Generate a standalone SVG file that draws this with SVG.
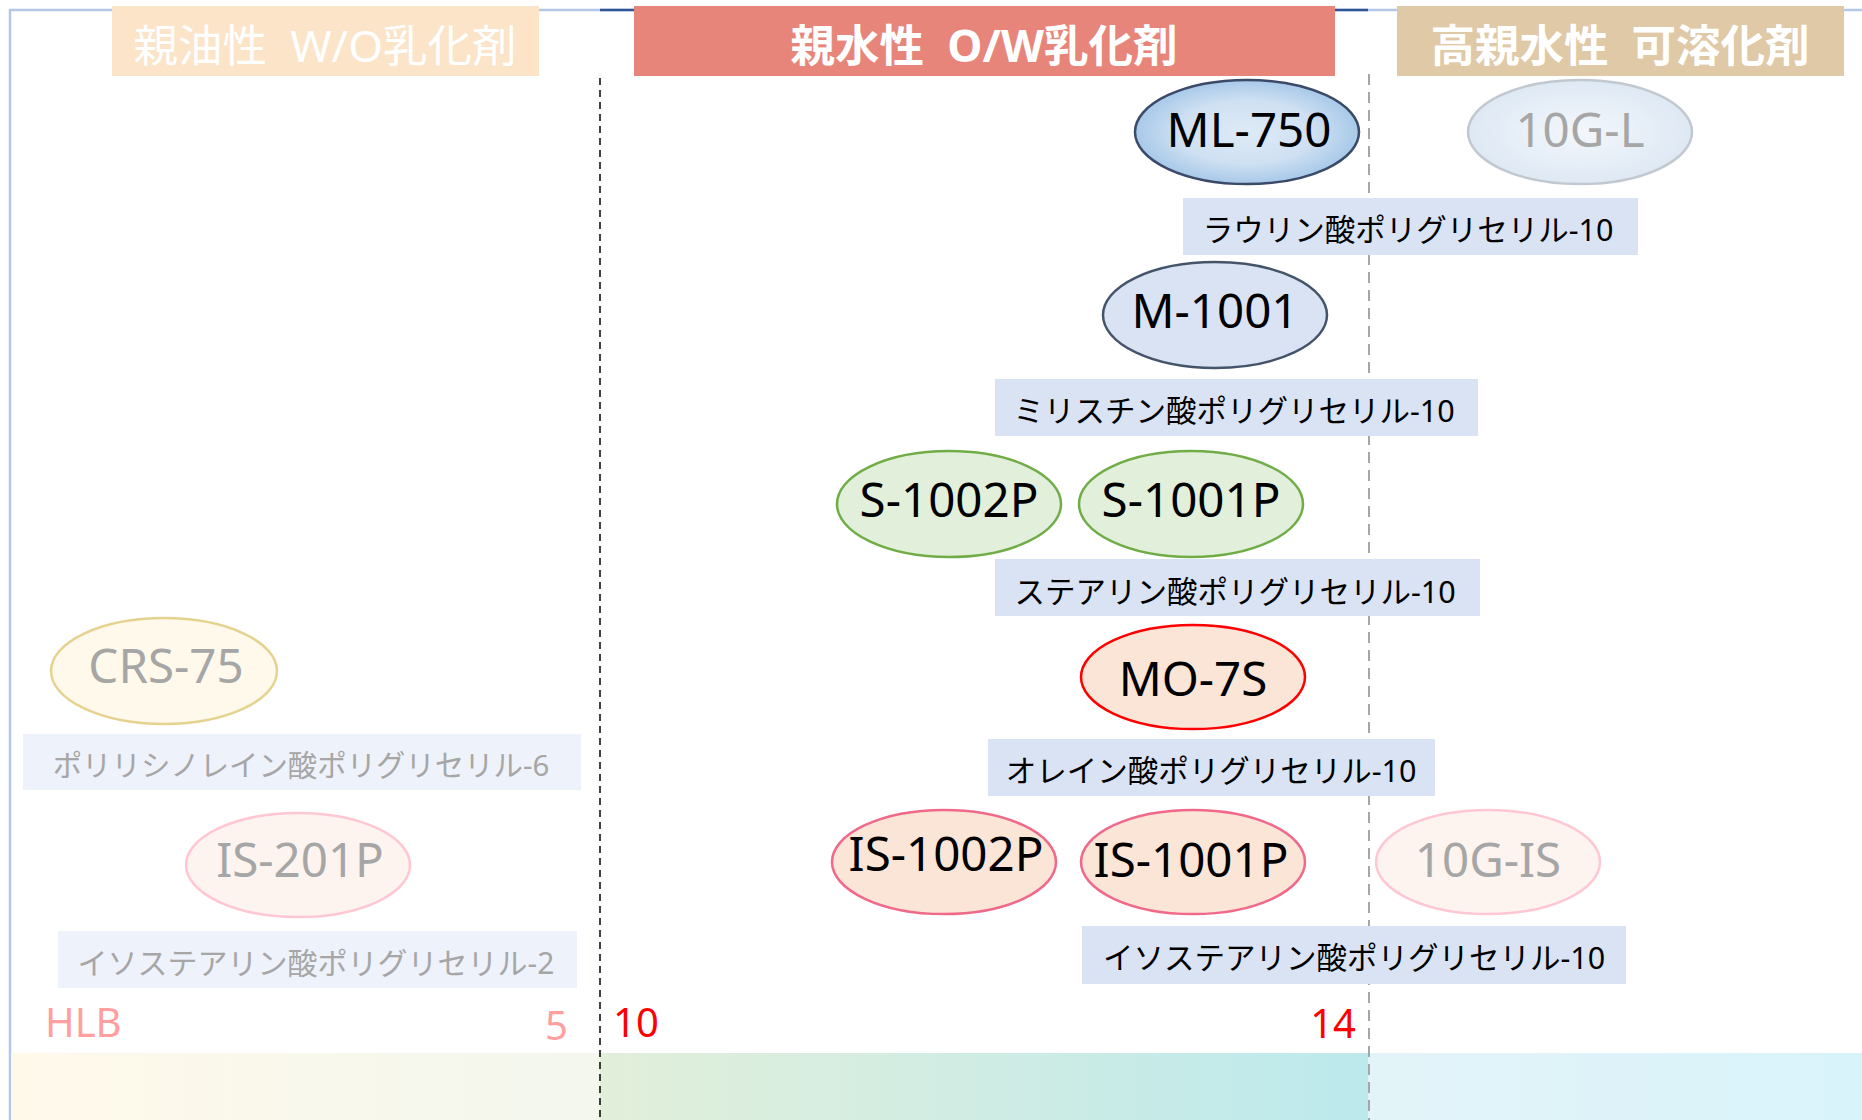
<svg xmlns="http://www.w3.org/2000/svg" width="1862" height="1120" viewBox="0 0 1862 1120">
<defs>
<style>
.hd{font-family:"Noto Sans","Noto Sans CJK JP",sans-serif;font-size:44.5px;fill:#fff;text-anchor:middle;dominant-baseline:central}
.nd{font-family:"Noto Sans","Noto Sans CJK JP",sans-serif;font-size:47.5px;text-anchor:middle;dominant-baseline:central}
.lb{font-family:"Noto Sans","Noto Sans CJK JP",sans-serif;font-size:30.5px;text-anchor:middle;dominant-baseline:central}
.ax{font-family:"Noto Sans","Noto Sans CJK JP",sans-serif;font-size:40px}
.blk{fill:#000}
.gry{fill:#a6a6a6}
.lbA{fill:#dae3f3}
.lbG{fill:#eef2fa}
</style>
<radialGradient id="gML" cx="50%" cy="50%" r="55%">
<stop offset="0" stop-color="#deebf7"/><stop offset="0.55" stop-color="#cfe0f2"/><stop offset="1" stop-color="#9dc3e6"/>
</radialGradient>
<radialGradient id="g10L" cx="50%" cy="50%" r="55%">
<stop offset="0" stop-color="#f3f7fc"/><stop offset="1" stop-color="#dce7f3"/>
</radialGradient>
<linearGradient id="bar1" x1="0" x2="1" y1="0" y2="0"><stop offset="0" stop-color="#fff9ea"/><stop offset="1" stop-color="#f3f7ee"/></linearGradient>
<linearGradient id="bar2" x1="0" x2="1" y1="0" y2="0"><stop offset="0" stop-color="#e2efda"/><stop offset="1" stop-color="#bce9ed"/></linearGradient>
<linearGradient id="bar3" x1="0" x2="1" y1="0" y2="0"><stop offset="0" stop-color="#e3f4f8"/><stop offset="1" stop-color="#d9f3fb"/></linearGradient>
</defs>
<rect width="1862" height="1120" fill="#fff"/>
<g id="frame">
<line x1="9" y1="10" x2="1862" y2="10" stroke="#b4c7e7" stroke-width="2.5"/>
<line x1="600" y1="10" x2="1368" y2="10" stroke="#2f5597" stroke-width="2.5"/>
<line x1="10" y1="9" x2="10" y2="1120" stroke="#b4c7e7" stroke-width="2.5"/>
</g>
<g id="hlb-bar">
<rect x="11" y="1053" width="589" height="67" fill="url(#bar1)"/>
<rect x="600" y="1053" width="768" height="67" fill="url(#bar2)"/>
<rect x="1368" y="1053" width="494" height="67" fill="url(#bar3)"/>
</g>
<g id="connectors">
<line x1="600" y1="78" x2="600" y2="1120" stroke="#000" stroke-width="1.5" stroke-dasharray="7 5"/>
<line x1="1369" y1="74" x2="1369" y2="1120" stroke="#a6a6a6" stroke-width="2" stroke-dasharray="11 7"/>
</g>
<g id="header-wo">
<rect x="112" y="6" width="427" height="70" fill="#fce4c9"/>
<text class="hd" x="325" y="44">親油性&#160;&#160;W/O乳化剤</text>
</g>
<g id="header-ow">
<rect x="634" y="6" width="701" height="70" fill="#e8857a"/>
<text class="hd" x="984" y="44" font-weight="bold">親水性&#160;&#160;O/W乳化剤</text>
</g>
<g id="header-sol">
<rect x="1397" y="6" width="447" height="70" fill="#dfc9a6"/>
<text class="hd" x="1620" y="44" font-weight="bold">高親水性&#160;&#160;可溶化剤</text>
</g>
<g id="node-ML-750">
<ellipse cx="1247" cy="132" rx="112" ry="52" fill="url(#gML)" stroke="#3b4a68" stroke-width="2.5"/>
<text class="nd blk" x="1249" y="128">ML-750</text>
</g>
<g id="node-10G-L">
<ellipse cx="1580" cy="132" rx="112" ry="52" fill="url(#g10L)" stroke="#c2c8cf" stroke-width="2.5"/>
<text class="nd gry" x="1580" y="128">10G-L</text>
</g>
<g id="label-lauric">
<rect class="lbA" x="1183" y="198" width="455" height="57"/>
<text class="lb blk" x="1408" y="229">ラウリン酸ポリグリセリル-10</text>
</g>
<g id="node-M-1001">
<ellipse cx="1215" cy="315" rx="112" ry="53" fill="#dae3f3" stroke="#44546a" stroke-width="2.5"/>
<text class="nd blk" x="1215" y="309">M-1001</text>
</g>
<g id="label-myristic">
<rect class="lbA" x="995" y="379" width="483" height="57"/>
<text class="lb blk" x="1234" y="410">ミリスチン酸ポリグリセリル-10</text>
</g>
<g id="node-S-1002P">
<ellipse cx="949" cy="504" rx="112" ry="53" fill="#e2efda" stroke="#70ad47" stroke-width="2.5"/>
<text class="nd blk" x="949" y="498">S-1002P</text>
</g>
<g id="node-S-1001P">
<ellipse cx="1191" cy="504" rx="112" ry="53" fill="#e2efda" stroke="#70ad47" stroke-width="2.5"/>
<text class="nd blk" x="1191" y="498">S-1001P</text>
</g>
<g id="label-stearic">
<rect class="lbA" x="995" y="559" width="485" height="57"/>
<text class="lb blk" x="1235" y="591">ステアリン酸ポリグリセリル-10</text>
</g>
<g id="node-MO-7S">
<ellipse cx="1193" cy="677" rx="112" ry="52" fill="#fbe5d6" stroke="#ff0000" stroke-width="2.5"/>
<text class="nd blk" x="1193" y="677">MO-7S</text>
</g>
<g id="label-oleic">
<rect class="lbA" x="988" y="739" width="447" height="57"/>
<text class="lb blk" x="1211" y="770">オレイン酸ポリグリセリル-10</text>
</g>
<g id="node-IS-1002P">
<ellipse cx="944" cy="862" rx="112" ry="52" fill="#fbe5d6" stroke="#f0688a" stroke-width="2.5"/>
<text class="nd blk" x="946" y="852">IS-1002P</text>
</g>
<g id="node-IS-1001P">
<ellipse cx="1193" cy="862" rx="112" ry="52" fill="#fbe5d6" stroke="#f0688a" stroke-width="2.5"/>
<text class="nd blk" x="1191" y="858">IS-1001P</text>
</g>
<g id="node-10G-IS">
<ellipse cx="1488" cy="862" rx="112" ry="52" fill="#fdf4ef" stroke="#ffc6d4" stroke-width="2.5"/>
<text class="nd gry" x="1488" y="858">10G-IS</text>
</g>
<g id="label-isostearic10">
<rect class="lbA" x="1082" y="926" width="544" height="58"/>
<text class="lb blk" x="1354" y="957">イソステアリン酸ポリグリセリル-10</text>
</g>
<g id="node-CRS-75">
<ellipse cx="164" cy="671" rx="113" ry="53" fill="#fff9ec" stroke="#e6d28f" stroke-width="2.5"/>
<text class="nd gry" x="166" y="664">CRS-75</text>
</g>
<g id="label-ricinoleic6">
<rect class="lbG" x="23" y="734" width="558" height="56"/>
<text class="lb gry" x="301" y="765" style="font-size:29.4px">ポリリシノレイン酸ポリグリセリル-6</text>
</g>
<g id="node-IS-201P">
<ellipse cx="298" cy="865" rx="112" ry="52" fill="#fdf4ef" stroke="#ffc6d4" stroke-width="2.5"/>
<text class="nd gry" x="300" y="858">IS-201P</text>
</g>
<g id="label-isostearic2">
<rect class="lbG" x="58" y="931" width="519" height="57"/>
<text class="lb gry" x="316" y="962" style="font-size:30px">イソステアリン酸ポリグリセリル-2</text>
</g>
<g id="axis-labels">
<text class="ax" x="45" y="1037" fill="#ff9f9f">HLB</text>
<text class="ax" x="568" y="1040" fill="#ff9f9f" text-anchor="end">5</text>
<text class="ax" x="613" y="1037" fill="#ff0000">10</text>
<text class="ax" x="1356" y="1038" fill="#ff0000" text-anchor="end">14</text>
</g>
</svg>
